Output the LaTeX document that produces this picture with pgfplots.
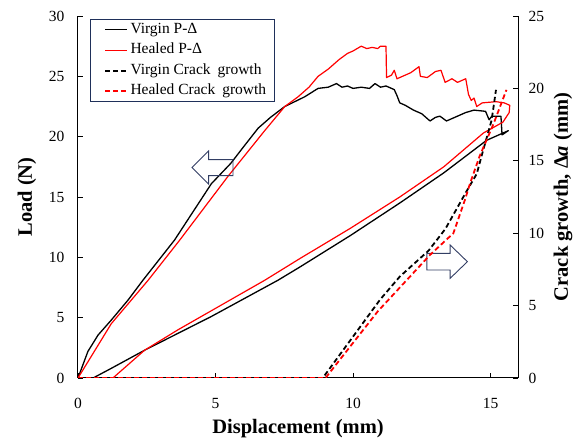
\documentclass[border=0pt]{standalone}
\usepackage{fontspec}
\setmainfont{Liberation Serif}
\usepackage{pgfplots}
\usepackage{pgfplotstable}
\pgfplotsset{compat=1.18}
\definecolor{arrowCol}{RGB}{50,62,100}
\definecolor{legCol}{RGB}{31,48,90}
\newcommand{\ticfont}{\fontsize{15.5}{18}\selectfont}
\newcommand{\labfont}{\fontsize{20.5}{24}\selectfont\bfseries}

% Load-displacement, virgin (loading then unloading line)
\pgfplotstableread{
x y
0 0
0.36 2.2
0.73 3.56
1.21 4.8
1.82 6.46
2.36 8.1
3.51 11.43
4.85 16.1
5.56 17.8
6.0 19.1
6.55 20.7
7.0 21.6
7.52 22.5
8.24 23.3
8.73 24.0
9.1 24.1
9.4 24.4
9.6 24.1
9.8 24.2
10.0 24.0
10.3 24.1
10.6 24.0
10.8 24.4
11.0 24.1
11.2 24.2
11.5 23.9
11.6 23.4
11.7 22.8
11.9 22.6
12.2 22.2
12.5 21.9
12.8 21.3
13.0 21.6
13.16 21.7
13.4 21.3
13.7 21.6
14.1 22.0
14.4 22.2
14.82 22.1
14.95 21.4
15.05 21.7
15.38 21.7
15.42 20.15
15.65 20.5
14.86 19.7
13.3 17.0
11.7 14.5
9.9 11.8
8.07 9.2
7.27 8.1
4.85 5.1
2.42 2.3
1.21 0.8
0.55 0
}\virginPD

% Load-displacement, healed
\pgfplotstableread{
x y
0 0
1.21 4.5
2.55 8.1
3.7 11.43
5.45 16.7
6.79 20.5
7.52 22.5
8.0 23.3
8.4 24.1
8.73 25.0
9.1 25.6
9.5 26.4
9.8 26.9
10.0 27.1
10.3 27.5
10.5 27.3
10.7 27.4
10.9 27.3
11.0 27.5
11.2 27.5
11.22 24.9
11.4 25.1
11.5 25.5
11.6 24.8
11.8 25.0
12.1 25.3
12.4 25.8
12.45 25.0
12.7 24.9
13.0 25.4
13.2 25.5
13.35 24.5
13.6 24.8
13.8 24.5
14.1 24.8
14.2 23.5
14.3 23.0
14.4 23.2
14.5 22.5
14.7 22.8
15.2 22.9
15.5 22.8
15.7 22.6
15.68 22.0
15.45 21.2
14.74 20.3
13.3 17.5
11.7 15.0
9.9 12.4
8.07 9.9
6.79 8.1
3.64 4.0
2.42 2.3
1.27 0
}\healedPD

% Crack growth, virgin
\pgfplotstableread{
x y
0 0
8.9 0
10.98 5.4
11.7 7.0
12.75 8.8
13.36 10.3
14.1 12.8
14.5 14.1
14.7 15.5
15.04 17.8
15.2 19.9
}\virginCG

% Crack growth, healed
\pgfplotstableread{
x y
0 0
9.0 0
10.9 4.6
12.07 7.0
12.8 8.5
13.65 10.0
14.07 12.3
14.25 13.4
14.6 15.3
15.1 17.5
15.58 19.9
}\healedCG

\begin{document}
\begin{tikzpicture}
\useasboundingbox (-78pt,-61pt) rectangle (498pt,378pt);
\pgfplotsset{
  common/.style={
    at={(0,0)}, anchor=south west,
    scale only axis, width=440pt, height=362pt,
    xmin=0, xmax=16,
    tick align=inside, major tick length=5pt,
    tick style={black, line width=0.8pt},
    axis line style={line width=1pt},
    tick label style={font=\ticfont},
    /pgf/number format/assume math mode=true,
    label style={font=\labfont},
  }
}
\begin{axis}[
  common,
  ymin=0, ymax=30,
  axis x line*=bottom, axis y line*=left,
  xtick={0,5,10,15}, ytick={0,5,10,15,20,25,30},
  xticklabel style={yshift=-17pt},
  yticklabel style={xshift=-10pt},
  xlabel={Displacement (mm)},
  ylabel={Load (N)},
  xlabel style={at={(axis description cs:0.5,-0.1409)}, anchor=center},
  ylabel style={at={(axis description cs:-0.1159,0.5)}, anchor=center, rotate=0},
]
  \addplot[black, line width=1.3pt, line join=round] table {\virginPD};
  \addplot[red, line width=1.2pt, line join=round] table {\healedPD};
  % hollow block arrows pointing at each axis
  \draw[arrowCol, line width=0.9pt] (axis cs:4.145,17.44)
     -- ++(16.7pt,16.7pt) -- ++(0,-8.7pt) -- ++(24.3pt,0) -- ++(0,-16pt)
     -- ++(-24.3pt,0) -- ++(0,-8.7pt) -- cycle;
  \draw[arrowCol, line width=0.9pt] (axis cs:14.16,9.64)
     -- ++(-17.3pt,16.7pt) -- ++(0,-8.4pt) -- ++(-23.3pt,0) -- ++(0,-16.6pt)
     -- ++(23.3pt,0) -- ++(0,-8.4pt) -- cycle;
\end{axis}
\begin{axis}[
  common,
  ymin=0, ymax=25,
  axis x line=none, axis y line*=right,
  ytick={0,5,10,15,20,25},
  yticklabel style={xshift=7pt},
  ylabel={Crack growth, Δ\textit{a} (mm)},
  ylabel style={at={(axis description cs:1.1023,0.5)}, anchor=center, rotate=0},
  legend cell align=left,
  legend image code/.code={\path (0pt,0pt); \draw[#1] (8pt,0pt) -- (30pt,0pt);},
  legend style={at={(axis description cs:0.027,0.992)}, anchor=north west,
    draw=legCol, line width=1.2pt, font=\ticfont,
    inner xsep=6pt, inner ysep=0pt, row sep=0pt,
    nodes={inner sep=2.25pt, text height=11.5pt, text depth=4.5pt}},
]
  \addlegendimage{black, line width=1.3pt}
  \addlegendentry{Virgin P-Δ}
  \addlegendimage{red, line width=1.2pt}
  \addlegendentry{Healed P-Δ}
  \addplot[black, line width=1.8pt, dash pattern=on 5pt off 3pt] table {\virginCG};
  \addlegendentry{Virgin Crack\hspace{0.45em}growth}
  \addplot[red, line width=1.8pt, dash pattern=on 5pt off 3pt] table {\healedCG};
  \addlegendentry{Healed Crack\hspace{0.45em}growth}
\end{axis}
\end{tikzpicture}
\end{document}
